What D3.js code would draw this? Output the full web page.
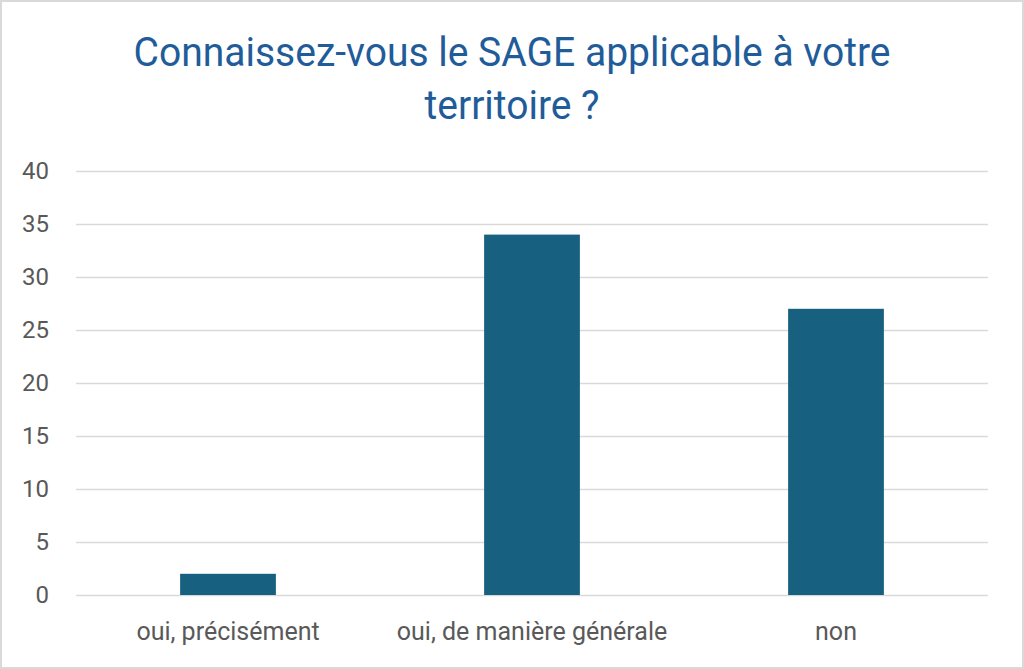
<!DOCTYPE html>
<html>
<head>
<meta charset="utf-8">
<script src="https://cdn.jsdelivr.net/npm/d3@7"></script>
<style>
  html, body { margin: 0; padding: 0; background: #fff; }
  svg { display: block; }
</style>
</head>
<body>
<div id="chart"></div>
<script>
// data
var titleLines = ["Connaissez-vous le SAGE applicable à votre", "territoire ?"];
var titleWidths = [757, 175];
var categories = ["oui, précisément", "oui, de manière générale", "non"];
var counts = [2, 34, 27];
var yTicks = [0, 5, 10, 15, 20, 25, 30, 35, 40];

var width = 1024, height = 669;
var margin = {top: 171, right: 36, bottom: 74, left: 76};
var innerW = width - margin.left - margin.right;
var innerH = height - margin.top - margin.bottom;

var svg = d3.select("#chart")
    .append("svg")
    .attr("width", width)
    .attr("height", height);

// outer frame
svg.append("rect")
    .attr("x", 1).attr("y", 1)
    .attr("width", width - 2).attr("height", height - 2)
    .attr("fill", "#fff")
    .attr("stroke", "#d9d9d9")
    .attr("stroke-width", 2);

// title (narrow font squeezed to the widths seen in the picture)
svg.append("g")
    .selectAll("text")
    .data(titleLines)
    .enter()
    .append("text")
    .attr("x", 512)
    .attr("y", function(d, i) { return 66 + i * 52.5; })
    .attr("text-anchor", "middle")
    .attr("textLength", function(d, i) { return titleWidths[i]; })
    .attr("lengthAdjust", "spacingAndGlyphs")
    .attr("fill", "#1f5c99")
    .style("font-family", "Roboto, sans-serif")
    .style("font-size", "40px")
    .text(function(d) { return d; });

var g = svg.append("g")
    .attr("transform", "translate(" + margin.left + "," + margin.top + ")");

var x = d3.scaleBand()
    .domain(categories)
    .range([0, innerW])
    .paddingInner(0.685)
    .paddingOuter(0.3425);

var y = d3.scaleLinear()
    .domain([0, 40])
    .range([innerH, 0]);

// gridlines
var grid = g.append("g")
    .call(d3.axisLeft(y).tickValues(yTicks).tickSize(-innerW).tickFormat(""));
grid.select(".domain").remove();
grid.selectAll("line").attr("stroke", "#d9d9d9").attr("stroke-width", 1.5);

// y labels
var yAxis = g.append("g")
    .call(d3.axisLeft(y).tickValues(yTicks).tickSize(0).tickPadding(27));
yAxis.select(".domain").remove();
yAxis.selectAll("text")
    .attr("fill", "#595959")
    .style("font-family", "Roboto, sans-serif")
    .style("font-size", "24px");

// bars
g.selectAll(".bar")
    .data(counts)
    .enter()
    .append("rect")
    .attr("class", "bar")
    .attr("x", function(d, i) { return x(categories[i]); })
    .attr("y", function(d) { return y(d); })
    .attr("width", x.bandwidth())
    .attr("height", function(d) { return innerH - y(d); })
    .attr("fill", "#17607f");

// x labels
var xAxis = g.append("g")
    .attr("transform", "translate(0," + innerH + ")")
    .call(d3.axisBottom(x).tickSize(0).tickPadding(27));
xAxis.select(".domain").remove();
xAxis.selectAll("text")
    .attr("fill", "#595959")
    .style("font-family", "Roboto, sans-serif")
    .style("font-size", "25px");
</script>
</body>
</html>
